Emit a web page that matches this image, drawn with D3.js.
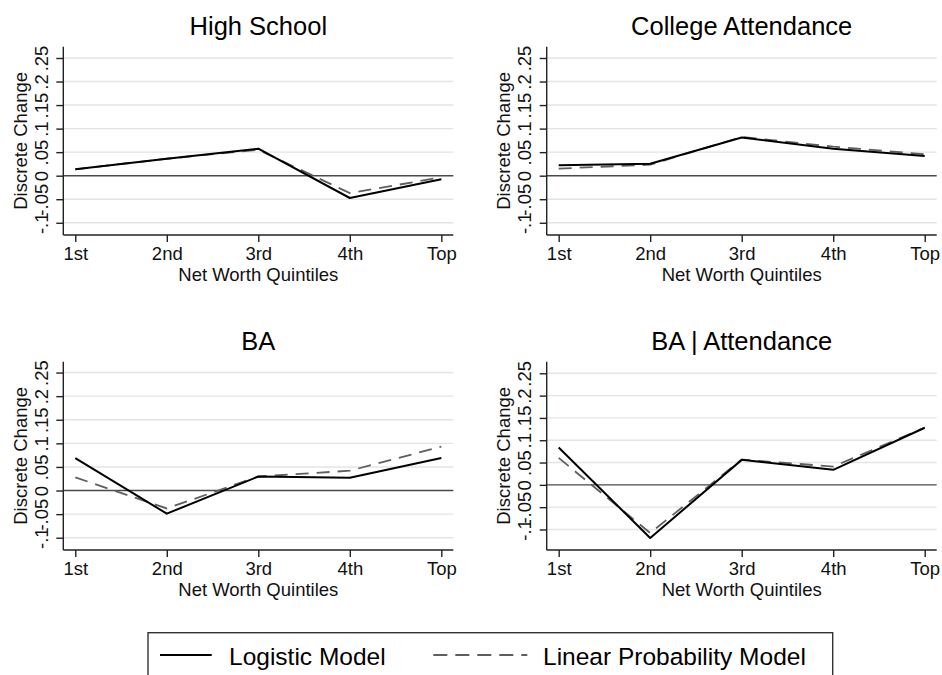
<!DOCTYPE html>
<html>
<head>
<meta charset="utf-8">
<script src="https://cdn.jsdelivr.net/npm/d3@7"></script>
<style>
  html, body { margin: 0; padding: 0; background: #fff; }
  svg { display: block; font-family: "Liberation Sans", Arial, Helvetica, sans-serif; }
</style>
</head>
<body>
<svg id="chart" width="942" height="675"></svg>
<script>
// ---- Data ----
const categories = ["1st", "2nd", "3rd", "4th", "Top"];
const panelTitles = ["High School", "College Attendance", "BA", "BA | Attendance"];
const seriesNames = ["Logistic Model", "Linear Probability Model"];

const hsLogit  = [0.0136, 0.036, 0.0574, -0.0474, -0.0077];
const hsLPM    = [0.0136, 0.036, 0.055, -0.037, -0.0035];
const caLogit  = [0.022, 0.0255, 0.081, 0.0574, 0.042];
const caLPM    = [0.015, 0.0234, 0.0823, 0.0617, 0.0455];
const baLogit  = [0.0686, -0.049, 0.0297, 0.027, 0.069];
const baLPM    = [0.028, -0.038, 0.0297, 0.042, 0.093];
const baaLogit = [0.0836, -0.119, 0.056, 0.0336, 0.128];
const baaLPM   = [0.0604, -0.108, 0.0567, 0.041, 0.128];

const yTickValues = [-0.1, -0.05, 0, 0.05, 0.1, 0.15, 0.2, 0.25];
const yTickLabels = ["-.1", "-.05", "0", ".05", ".1", ".15", ".2", ".25"];
const yDomains = [[-0.126, 0.274], [-0.126, 0.274], [-0.126, 0.273], [-0.146, 0.276]];
const yTitle = "Discrete Change";
const xTitle = "Net Worth Quintiles";

// ---- Layout ----
const svg = d3.select("#chart");
const W = 390, H = 188.3;
const panels = [
  { x: 63.3,  y: 46.7,  title: panelTitles[0], logit: hsLogit,  lpm: hsLPM,  dom: yDomains[0] },
  { x: 546.7, y: 46.7,  title: panelTitles[1], logit: caLogit,  lpm: caLPM,  dom: yDomains[1] },
  { x: 63.3,  y: 361.7, title: panelTitles[2], logit: baLogit,  lpm: baLPM,  dom: yDomains[2] },
  { x: 546.7, y: 361.7, title: panelTitles[3], logit: baaLogit, lpm: baaLPM, dom: yDomains[3] }
];

const LOGIT_COLOR = "#000000";
const LPM_COLOR = "#5e5e5e";
const DASH = "13,8";
const LEGEND_DASH = "14,8";

panels.forEach(p => {
  const g = svg.append("g").attr("transform", `translate(${p.x},${p.y})`);
  const x = d3.scalePoint().domain(categories).range([0, W]).padding(0.131);
  const y = d3.scaleLinear().domain(p.dom).range([H, 0]);

  // gridlines
  g.append("g").selectAll("line").data(yTickValues.filter(v => v !== 0)).join("line")
    .attr("x1", 0).attr("x2", W)
    .attr("y1", d => y(d)).attr("y2", d => y(d))
    .attr("stroke", "#e4e4e4").attr("stroke-width", 1.4);

  // zero line
  g.append("line")
    .attr("x1", 0).attr("x2", W)
    .attr("y1", y(0)).attr("y2", y(0))
    .attr("stroke", "#4a4a4a").attr("stroke-width", 1.4);

  // y axis
  const yAx = g.append("g").call(
    d3.axisLeft(y).tickValues(yTickValues).tickSize(7)
      .tickFormat((d, i) => yTickLabels[i])
  );
  yAx.select(".domain").attr("stroke", "#222").attr("stroke-width", 1.4)
    .attr("d", `M0,0V${H}`);
  yAx.selectAll(".tick line").attr("stroke", "#222").attr("stroke-width", 1.4);
  yAx.selectAll(".tick text")
    .attr("font-size", 18.5).attr("fill", "#111")
    .attr("font-family", "Liberation Sans, Arial, sans-serif")
    .attr("text-anchor", "middle")
    .attr("transform", "rotate(-90)")
    .attr("x", 0).attr("y", -15.3).attr("dy", 0);

  // x axis
  const xAx = g.append("g").attr("transform", `translate(0,${H})`).call(
    d3.axisBottom(x).tickSize(7)
  );
  xAx.select(".domain").attr("stroke", "#222").attr("stroke-width", 1.4)
    .attr("d", `M0,0H${W}`);
  xAx.selectAll(".tick line").attr("stroke", "#222").attr("stroke-width", 1.4);
  xAx.selectAll(".tick text")
    .attr("font-size", 18.5).attr("fill", "#111")
    .attr("font-family", "Liberation Sans, Arial, sans-serif")
    .attr("y", 12).attr("dy", "0.71em");

  // axis titles
  g.append("text")
    .attr("x", W / 2).attr("y", H + 46.5)
    .attr("text-anchor", "middle").attr("font-size", 18.5).attr("fill", "#111")
    .text(xTitle);
  g.append("text")
    .attr("transform", `translate(${-36.5},${H / 2}) rotate(-90)`)
    .attr("text-anchor", "middle").attr("font-size", 18.5).attr("fill", "#111")
    .text(yTitle);

  // panel title
  g.append("text")
    .attr("x", W / 2).attr("y", -11.7)
    .attr("text-anchor", "middle").attr("font-size", 25.5).attr("fill", "#000")
    .text(p.title);

  const line = d3.line().x((d, i) => x(categories[i])).y(d => y(d));

  g.append("path").datum(p.lpm)
    .attr("d", line).attr("fill", "none")
    .attr("stroke", LPM_COLOR).attr("stroke-width", 1.8)
    .attr("stroke-dasharray", DASH);
  g.append("path").datum(p.logit)
    .attr("d", line).attr("fill", "none")
    .attr("stroke", LOGIT_COLOR).attr("stroke-width", 2)
    .attr("stroke-linejoin", "round");
});

// ---- Legend ----
const lg = svg.append("g");
lg.append("rect")
  .attr("x", 148).attr("y", 632.7).attr("width", 684.7).attr("height", 60)
  .attr("fill", "#fff").attr("stroke", "#333").attr("stroke-width", 1.4);
lg.append("line")
  .attr("x1", 160).attr("x2", 211.7).attr("y1", 655).attr("y2", 655)
  .attr("stroke", LOGIT_COLOR).attr("stroke-width", 2);
lg.append("text")
  .attr("x", 229).attr("y", 665).attr("font-size", 24.5).attr("fill", "#000")
  .text(seriesNames[0]);
lg.append("line")
  .attr("x1", 433.3).attr("x2", 527.3).attr("y1", 655).attr("y2", 655)
  .attr("stroke", LPM_COLOR).attr("stroke-width", 1.8)
  .attr("stroke-dasharray", LEGEND_DASH);
lg.append("text")
  .attr("x", 543).attr("y", 665).attr("font-size", 24.5).attr("fill", "#000")
  .text(seriesNames[1]);
</script>
</body>
</html>
